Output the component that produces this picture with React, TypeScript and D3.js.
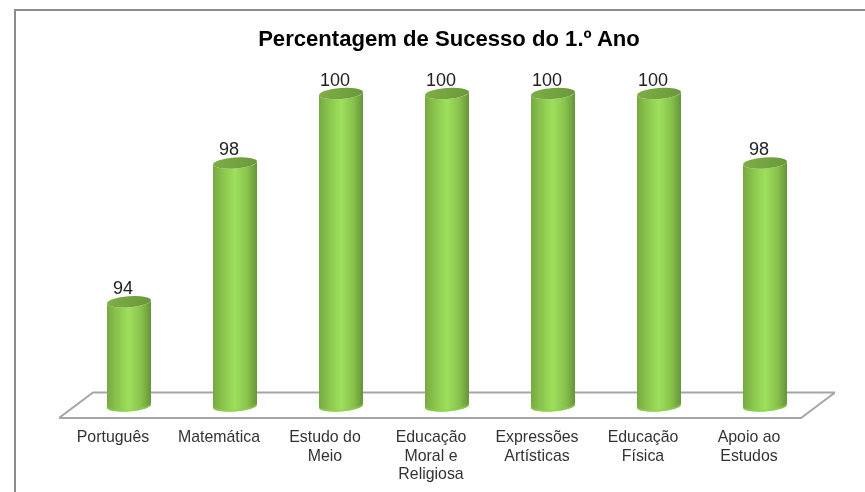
import React from 'react'
import * as d3 from 'd3'

const title = 'Percentagem de Sucesso do 1.º Ano'
const categories = ['Português', 'Matemática', 'Estudo do Meio', 'Educação Moral e Religiosa', 'Expressões Artísticas', 'Educação Física', 'Apoio ao Estudos']
const categoryLines = [['Português'], ['Matemática'], ['Estudo do', 'Meio'], ['Educação', 'Moral e', 'Religiosa'], ['Expressões', 'Artísticas'], ['Educação', 'Física'], ['Apoio ao', 'Estudos']]
const values = [94, 98, 100, 100, 100, 100, 98]

const width = 865
const height = 492
const tilt = 4.3

export default function App() {
  const x = d3.scaleBand<string>()
    .domain(categories)
    .range([76, 818])
    .paddingInner(0.585)
    .paddingOuter(0.2925)

  const y = d3.scaleLinear().domain([91, 100]).range([406, 93.5])

  const rx = x.bandwidth() / 2
  const ry = 5.5
  const rise = rx * Math.tan((tilt * Math.PI) / 180)

  // arc between the two ends of a tilted ellipse: flag 0 runs left to right under it, 1 runs back
  const arc = (sweep: number, px: number, py: number) => `A${rx},${ry} ${-tilt} 0 ${sweep} ${px},${py}`

  // tilted cylinder: side between the cap and the base ellipse
  const body = (x0: number, top: number) => {
    const x1 = x0 + rx * 2
    const base = y(91)
    return `M${x0},${top + rise}L${x0},${base + rise}${arc(0, x1, base - rise)}L${x1},${top - rise}${arc(1, x0, top + rise)}Z`
  }

  // lighter lip along the foot of the cylinder
  const lip = (x0: number) => {
    const x1 = x0 + rx * 2
    const base = y(91)
    return `M${x0},${base + rise}${arc(0, x1, base - rise)}L${x1},${base - rise - 2}${arc(1, x0, base + rise - 2)}Z`
  }

  const back = y(91) - 13.5
  const front = y(91) + 12

  return (
    <svg width={width} height={height} style={{ position: 'absolute', left: 0, top: 0, fontFamily: '"Liberation Sans", Arial, sans-serif' }}>
      <defs>
        <linearGradient id="side" x1="0" x2="1" y1="0" y2="0">
          <stop offset="0" stopColor="#76a942" />
          <stop offset="0.2" stopColor="#88c24c" />
          <stop offset="0.5" stopColor="#9ee05c" />
          <stop offset="0.78" stopColor="#88c24c" />
          <stop offset="1" stopColor="#669438" />
        </linearGradient>
        <linearGradient id="cap" x1="0" x2="1" y1="0" y2="0">
          <stop offset="0" stopColor="#7eae45" />
          <stop offset="1" stopColor="#6a983b" />
        </linearGradient>
        <filter id="soft" x="0" y="0" width="100%" height="100%">
          <feGaussianBlur stdDeviation="0.35" />
        </filter>
      </defs>
      <rect width={width} height={height} fill="#fff" />
      <path d={`M15,${height}V10H${width}`} fill="none" stroke="#8c8c8c" strokeWidth={2} />
      <g filter="url(#soft)">
        <text x={449} y={46} textAnchor="middle" fontSize={22.1} fontWeight="bold" fill="#000">{title}</text>
        <path
          d={`M93,${back}H835L801,${front}H59Z`}
          fill="#fff"
          stroke="#a6a6a6"
          strokeWidth={2}
        />
        {categories.map((c, i) => {
          const x0 = x(c) as number
          const top = y(values[i])
          return (
            <g key={c}>
              <path d={body(x0, top)} fill="url(#side)" />
              <path d={lip(x0)} fill="#8fd04e" fillOpacity={0.6} />
              <ellipse cx={x0 + rx} cy={top} rx={rx} ry={ry} transform={`rotate(${-tilt} ${x0 + rx} ${top})`} fill="url(#cap)" />
              <text x={x0 + rx - 6} y={top - 8} textAnchor="middle" fontSize={18} fill="#222">{values[i]}</text>
              <text textAnchor="middle" fontSize={15.9} fill="#333">
                {categoryLines[i].map((line, j) => (
                  <tspan key={line} x={x0 + rx - 16} y={442 + j * 18.5}>{line}</tspan>
                ))}
              </text>
            </g>
          )
        })}
      </g>
    </svg>
  )
}
